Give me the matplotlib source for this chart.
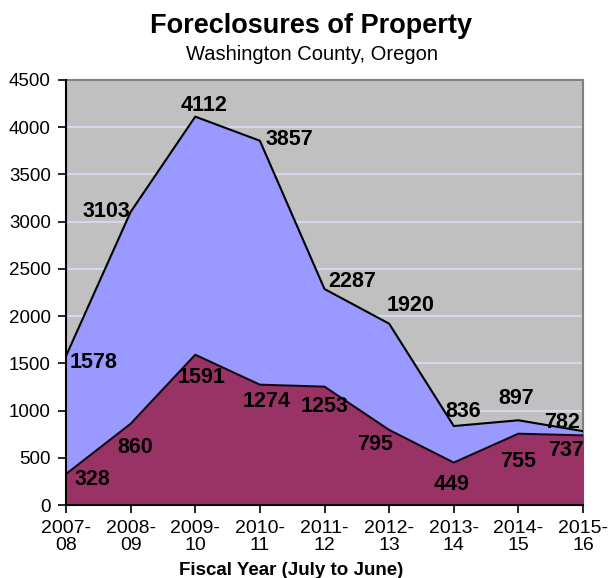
import matplotlib.pyplot as plt

# fiscal years and foreclosure counts
years = ['2007-\n08', '2008-\n09', '2009-\n10', '2010-\n11', '2011-\n12',
         '2012-\n13', '2013-\n14', '2014-\n15', '2015-\n16']
upper = [1578, 3103, 4112, 3857, 2287, 1920, 836, 897, 782]
lower = [328, 860, 1591, 1274, 1253, 795, 449, 755, 737]

# label offsets (x in categories, y in data units) to place the numbers like the original
upper_off = [(0.42, -64), (-0.38, 5), (0.14, 116), (0.46, 12), (0.43, 81),
             (0.33, 194), (0.14, 157), (-0.04, 230), (-0.32, 88)]
lower_off = [(0.41, -53), (0.07, -254), (0.10, -242), (0.10, -182), (0.0, -207),
             (-0.21, -151), (-0.03, -231), (-0.01, -297), (-0.26, -156)]

plt.rcParams['font.family'] = ['Liberation Sans', 'DejaVu Sans']

fig = plt.figure(figsize=(6.11, 5.78), dpi=100)
ax = fig.add_axes([66 / 611, 1 - 505 / 578, 517 / 611, 425 / 578])
ax.set_facecolor('#C0C0C0')

x = list(range(len(years)))
ax.fill_between(x, 0, upper, color='#9999FF', zorder=2)
ax.plot(x, upper, color='black', lw=1.5, zorder=3)
ax.fill_between(x, 0, lower, color='#993366', zorder=4)
ax.plot(x, lower, color='#1a0a10', lw=1.5, zorder=5)

for i, v in enumerate(upper):
    dx, dy = upper_off[i]
    ax.text(i + dx, v + dy, str(v), ha='center', va='center', fontsize=15.5,
            fontweight='bold', color='black', zorder=6)
for i, v in enumerate(lower):
    dx, dy = lower_off[i]
    ax.text(i + dx, v + dy, str(v), ha='center', va='center', fontsize=15.5,
            fontweight='bold', color='black', zorder=6)

ax.set_xlim(0, len(years) - 1)
ax.set_ylim(0, 4500)
ax.set_yticks(range(0, 4501, 500))
ax.set_xticks(x)
ax.set_xticklabels(years, linespacing=0.95)
ax.yaxis.grid(True, color='#D4D8EA', lw=1.5, zorder=1)
ax.set_axisbelow(True)

ax.tick_params(axis='both', colors='black', direction='out', length=6, width=1.2)
ax.tick_params(axis='y', pad=5, labelsize=13.5)
ax.tick_params(axis='x', pad=5, labelsize=14)

for s in ['top', 'right']:
    ax.spines[s].set_color('#808080')
    ax.spines[s].set_linewidth(1.5)
for s in ['left', 'bottom']:
    ax.spines[s].set_color('black')
    ax.spines[s].set_linewidth(1.5)
    ax.spines[s].set_zorder(7)

fig.text(311 / 611, 1 - 33 / 578, 'Foreclosures of Property', ha='center',
         va='baseline', fontsize=19.5, fontweight='bold')
fig.text(312 / 611, 1 - 60 / 578, 'Washington County, Oregon', ha='center',
         va='baseline', fontsize=14.5)
fig.text(291 / 611, 1 - 575 / 578, 'Fiscal Year (July to June)', ha='center',
         va='baseline', fontsize=13.5, fontweight='bold')

fig.savefig('out.png', dpi=100)
